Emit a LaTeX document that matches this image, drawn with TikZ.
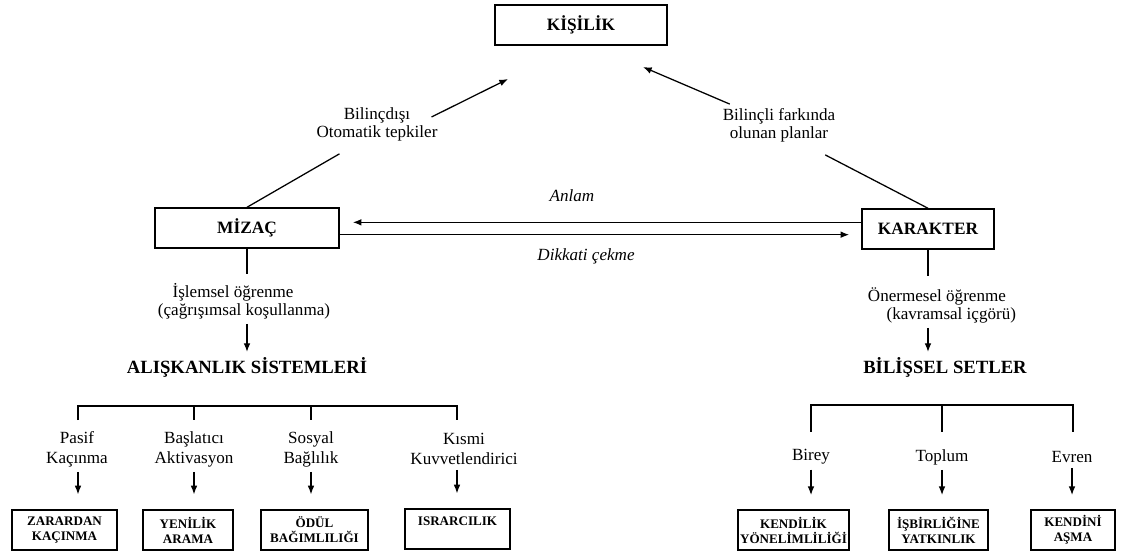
\documentclass[tikz,border=0pt]{standalone}
\usepackage{fontspec}
\setmainfont{Liberation Serif}
\usetikzlibrary{arrows.meta,calc}

\tikzset{
  bigbox/.style={draw, line width=1.1pt, minimum height=30pt, inner sep=0pt,
    font=\fontsize{13}{15}\selectfont\bfseries},
  smallbox/.style={draw, line width=1.4pt, minimum height=30pt, inner sep=0pt,
    align=center, font=\fontsize{9.8}{11.3}\selectfont\bfseries},
  lbl/.style={align=center, font=\fontsize{12.8}{13.5}\selectfont},
  sublbl/.style={align=center, font=\fontsize{12.8}{15}\selectfont},
  ilbl/.style={font=\fontsize{12.8}{13.5}\selectfont\itshape},
  heading/.style={font=\fontsize{14}{16}\selectfont\bfseries},
  arr/.style={-{Latex[length=6.5pt,width=5pt]}},
}

\begin{document}
\begin{tikzpicture}[x=0.75pt, y=-0.75pt, line width=0.95pt]
  \useasboundingbox (0,0) rectangle (1128,557);

  % main boxes
  \node[bigbox, minimum width=129pt] (kisilik)  at (581,25)  {KİŞİLİK};
  \node[bigbox, minimum width=138pt] (mizac)    at (247,228) {MİZAÇ};
  \node[bigbox, minimum width=99pt]  (karakter) at (928,229) {KARAKTER};

  % labels on the connectors
  \node[lbl] (bilincdisi) at (377,124) {Bilinçdışı\\Otomatik tepkiler};
  \node[lbl] (planlar)    at (779,125) {Bilinçli farkında\\olunan planlar};
  \node[ilbl] (anlam)  at (572,196) {Anlam};
  \node[ilbl] (dikkat) at (586,256) {Dikkati çekme};
  \node[lbl, align=left] (islemsel)  at (244,301)
    {\hspace*{11pt}İşlemsel öğrenme\\(çağrışımsal koşullanma)};
  \node[lbl, align=left] (onermesel) at (942,305)
    {Önermesel öğrenme\\\hspace*{14pt}(kavramsal içgörü)};

  \node[heading] (aliskanlik) at (247,367) {ALIŞKANLIK SİSTEMLERİ};
  \node[heading] (bilissel)   at (945,367) {BİLİŞSEL SETLER};

  \coordinate (kL) at (508,79);
  \coordinate (kR) at (643,67);

  % to KISILIK
  \draw (mizac.north) -- ($(bilincdisi.south west)+(28,8)$);
  \draw[arr] ($(bilincdisi.east)+(-11,-7)$) -- (kL);
  \draw (karakter.north) -- ($(planlar.south east)+(-15,8)$);
  \draw[arr] ($(planlar.north west)+(12,1)$) -- (kR);

  % between MIZAC and KARAKTER
  \draw[arr, shorten >=9.75pt] ([yshift=5pt]karakter.west) -- ([yshift=5pt]karakter.west -| mizac.east);
  \draw[arr, shorten >=9pt] ([yshift=-5pt]mizac.east) -- ([yshift=-5pt]mizac.east -| karakter.west);

  % down to the systems
  \draw (mizac.south) -- ++(0,25);
  \draw[arr] (islemsel.south -| mizac.south) -- (aliskanlik.north -| mizac.south);
  \draw (karakter.south) -- ++(0,26);
  \draw[arr] (onermesel.south -| karakter.south) -- (bilissel.north -| karakter.south);

  % habit systems
  \coordinate (barL)    at (78,406);
  \coordinate (barLend) at (457,406);
  \node[sublbl] (pasif)     at (77,449)  {Pasif\\Kaçınma};
  \node[sublbl] (baslatici) at (194,449) {Başlatıcı\\Aktivasyon};
  \node[sublbl] (sosyal)    at (311,449) {Sosyal\\Bağlılık};
  \node[sublbl] (kismi)     at (464,449) {Kısmi\\Kuvvetlendirici};

  \node[smallbox, minimum width=78.75pt] (zarar)   at (64.5,530)  {ZARARDAN\\KAÇINMA};
  \node[smallbox, minimum width=67.5pt]  (yenilik) at (188,530)   {YENİLİK\\ARAMA};
  \node[smallbox, minimum width=80.25pt] (odul)    at (314.5,530) {ÖDÜL\\BAĞIMLILIĞI};
  \node[smallbox, minimum width=78.75pt] (israr)   at (457.5,529) {ISRARCILIK\\\phantom{I}};

  \draw ([yshift=-10.5pt]barL) -- (barL) -- (barLend) -- ([yshift=-10.5pt]barLend);
  \foreach \n in {baslatici,sosyal}
    \draw (barL -| \n) -- ++(0,14);
  \draw[arr, shorten >=11pt] (pasif.south -| barL) -- (zarar.north -| barL);
  \draw[arr, shorten >=11pt] (baslatici.south) -- (baslatici.south |- yenilik.north);
  \draw[arr, shorten >=11pt] (sosyal.south) -- (sosyal.south |- odul.north);
  \draw[arr, shorten >=11pt] (kismi.south -| barLend) -- (israr.north -| barLend);

  % cognitive sets
  \coordinate (barR)    at (811,405);
  \coordinate (barRend) at (1073,405);
  \node[sublbl] (birey)  at (811,457)  {Birey};
  \node[sublbl] (toplum) at (942,457)  {Toplum};
  \node[sublbl] (evren)  at (1072,457) {Evren};

  \node[smallbox, minimum width=83.25pt] (kendilik)  at (793.5,530) {KENDİLİK\\YÖNELİMLİLİĞİ};
  \node[smallbox, minimum width=74.25pt] (isbirligi) at (938.5,530) {İŞBİRLİĞİNE\\YATKINLIK};
  \node[smallbox, minimum width=63pt]    (asma)      at (1073,530)  {KENDİNİ\\AŞMA};

  \draw ([yshift=-20pt]barR) -- (barR) -- (barRend) -- ([yshift=-20pt]barRend);
  \draw (barR -| toplum) -- ++(0,27);
  \foreach \n/\b in {birey/kendilik,toplum/isbirligi,evren/asma}
    \draw[arr, shorten >=10.5pt] (\n.south) -- (\n.south |- \b.north);
\end{tikzpicture}
\end{document}
